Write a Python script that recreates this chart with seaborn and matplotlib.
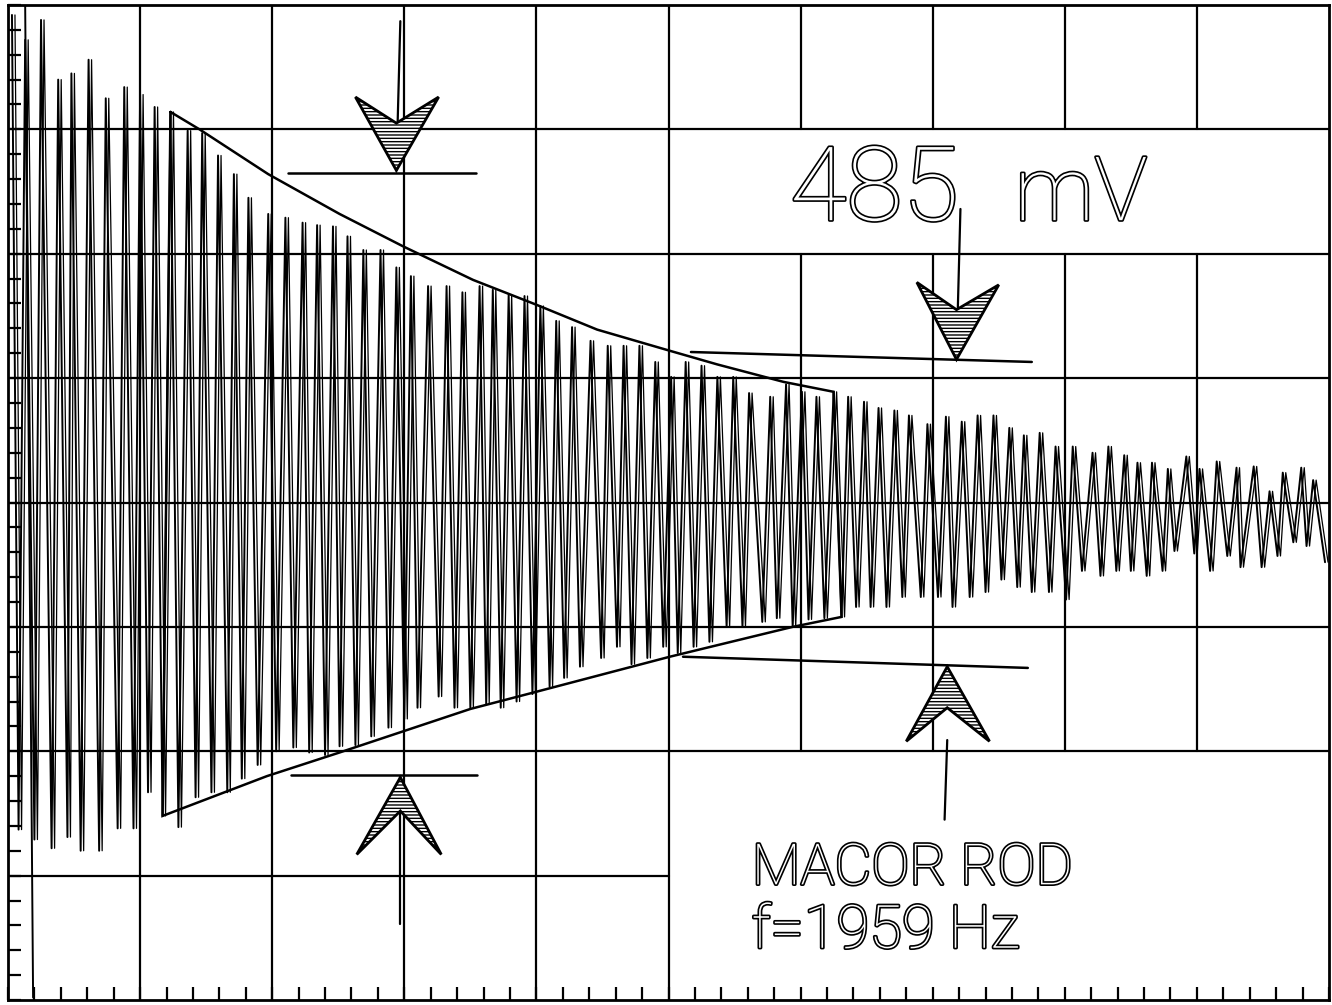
import numpy as np
import pandas as pd
import matplotlib
matplotlib.use("Agg")
import matplotlib.pyplot as plt
import seaborn as sns
from matplotlib import patheffects as pe
from matplotlib.patches import Polygon
from matplotlib.transforms import offset_copy

# ---------------- data (grid divisions) ----------------
peak_t = [0.03, 0.13, 0.25, 0.38, 0.48, 0.61, 0.74, 0.88, 1.00, 1.11,
          1.23, 1.36, 1.47, 1.59, 1.71, 1.82, 1.97, 2.10, 2.23, 2.34,
          2.46, 2.57, 2.69, 2.82, 2.94, 3.05, 3.18, 3.32, 3.44, 3.57,
          3.67, 3.79, 3.91, 4.03, 4.15, 4.27, 4.41, 4.54, 4.66, 4.78,
          4.90, 5.02, 5.13, 5.25, 5.37, 5.49, 5.61, 5.77, 5.89, 6.01,
          6.12, 6.25, 6.36, 6.48, 6.59, 6.71, 6.82, 6.96, 7.10, 7.22,
          7.34, 7.46, 7.58, 7.69, 7.81, 7.93, 8.06, 8.21, 8.33, 8.45,
          8.55, 8.66, 8.78, 8.92, 9.02, 9.15, 9.30, 9.43, 9.55, 9.65,
          9.79, 9.88]
peak_v = [3.92, 3.72, 3.88, 3.40, 3.45, 3.56, 3.25, 3.34, 3.28, 3.18,
          3.14, 2.99, 2.97, 2.79, 2.64, 2.45, 2.32, 2.29, 2.25, 2.23,
          2.22, 2.14, 2.03, 2.03, 1.89, 1.82, 1.74, 1.74, 1.69, 1.74,
          1.71, 1.67, 1.66, 1.58, 1.46, 1.41, 1.30, 1.26, 1.26, 1.26,
          1.13, 1.01, 1.13, 1.10, 1.01, 1.01, 0.88, 0.85, 0.95, 0.89,
          0.85, 0.89, 0.85, 0.81, 0.76, 0.74, 0.70, 0.63, 0.69, 0.65,
          0.70, 0.70, 0.60, 0.54, 0.56, 0.45, 0.45, 0.40, 0.45, 0.38,
          0.32, 0.32, 0.27, 0.37, 0.27, 0.33, 0.28, 0.29, 0.09, 0.24,
          0.28, 0.18]
trough_t = [0.08, 0.20, 0.33, 0.45, 0.55, 0.69, 0.83, 0.95, 1.06, 1.17,
            1.29, 1.42, 1.54, 1.66, 1.77, 1.89, 2.03, 2.16, 2.28, 2.40,
            2.51, 2.63, 2.75, 2.88, 3.00, 3.10, 3.26, 3.38, 3.50, 3.62,
            3.73, 3.85, 3.97, 4.10, 4.21, 4.33, 4.49, 4.61, 4.72, 4.84,
            4.96, 5.07, 5.19, 5.31, 5.44, 5.56, 5.71, 5.82, 5.94, 6.06,
            6.18, 6.31, 6.42, 6.53, 6.65, 6.77, 6.91, 7.04, 7.15, 7.28,
            7.40, 7.52, 7.64, 7.75, 7.88, 8.01, 8.13, 8.27, 8.39, 8.50,
            8.62, 8.74, 8.83, 8.98, 9.10, 9.23, 9.33, 9.49, 9.61, 9.73,
            9.83, 9.97]
trough_v = [-2.63, -2.71, -2.78, -2.69, -2.80, -2.80, -2.62, -2.62, -2.33, -2.52,
            -2.61, -2.37, -2.33, -2.33, -2.22, -2.11, -2.00, -1.97, -2.01, -2.03,
            -1.96, -1.95, -1.88, -1.81, -1.74, -1.65, -1.56, -1.65, -1.65, -1.62,
            -1.65, -1.60, -1.54, -1.48, -1.41, -1.32, -1.25, -1.16, -1.30, -1.25,
            -1.16, -1.21, -1.16, -1.12, -1.00, -1.00, -0.96, -0.93, -1.00, -0.94,
            -0.93, -0.92, -0.84, -0.84, -0.84, -0.76, -0.76, -0.76, -0.84, -0.76,
            -0.72, -0.62, -0.68, -0.72, -0.72, -0.78, -0.55, -0.59, -0.55, -0.55,
            -0.59, -0.55, -0.39, -0.41, -0.55, -0.43, -0.52, -0.52, -0.43, -0.32,
            -0.35, -0.48]

# decay envelope drawn over the trace
env_top_t = [1.23, 1.45, 1.97, 2.51, 2.99, 3.52, 4.00, 4.46, 5.01, 5.37, 5.87, 6.25]
env_top_v = [3.14, 3.00, 2.64, 2.32, 2.06, 1.79, 1.59, 1.39, 1.22, 1.11, 0.97, 0.89]
env_bot_t = [1.17, 1.96, 2.51, 3.50, 3.97, 5.01, 5.94, 6.31]
env_bot_v = [-2.52, -2.20, -2.01, -1.66, -1.53, -1.24, -1.00, -0.92]

# reference level lines (start, end)
ref_lines = {
    "top_left": ([2.12, 3.54], [2.65, 2.65]),
    "bot_left": ([2.14, 3.55], [-2.19, -2.19]),
    "top_right": ([5.17, 7.75], [1.21, 1.13]),
    "bot_right": ([5.11, 7.72], [-1.24, -1.33]),
}
# arrow heads: wing, tip, wing, notch
arrow_heads = [
    ([2.63, 2.94, 3.26, 2.94], [3.26, 2.67, 3.26, 3.05]),
    ([2.64, 2.97, 3.28, 2.97], [-2.83, -2.21, -2.83, -2.48]),
    ([6.88, 7.18, 7.50, 7.18], [1.77, 1.15, 1.75, 1.55]),
    ([6.80, 7.11, 7.43, 7.11], [-1.92, -1.32, -1.92, -1.65]),
]
leaders = [
    ([2.97, 2.94], [3.87, 2.67]),
    ([2.97, 2.97], [-2.21, -3.39]),
    ([7.21, 7.18], [2.36, 1.15]),
    ([7.11, 7.09], [-1.91, -2.55]),
]

# graticule divisions
grid_x = [1, 2, 3, 4, 5, 6, 7, 8, 9]
grid_y = [-3, -2, -1, 0, 1, 2, 3]

# ---------------- styling ----------------
sns.set_theme(style="white")
plt.rcParams["font.family"] = ["Roboto", "DejaVu Sans"]
plt.rcParams["hatch.linewidth"] = 1.0
plt.rcParams["hatch.color"] = "black"

fig = plt.figure(figsize=(13.32, 10.05), dpi=100)
fig.patch.set_facecolor("white")
ax = fig.add_axes([8 / 1332, 5 / 1005, 1321 / 1332, 995 / 1005])
ax.set_facecolor("white")

ax.set_xlim(0, 10)
ax.set_ylim(-4, 4)
ax.set_xticks(range(0, 11))
ax.set_yticks(range(-4, 5))
ax.set_xticks(np.arange(0, 10.01, 0.2), minor=True)
ax.set_yticks(np.arange(-4, 4.01, 0.2), minor=True)
ax.grid(False)
ax.tick_params(which="both", direction="in", length=9.5, width=1.6, color="black",
               bottom=True, left=True, top=False, right=False,
               labelbottom=False, labelleft=False)
for s in ax.spines.values():
    s.set_color("black")
    s.set_linewidth(2.0)

# graticule: cleared behind the two text blocks
gkw = dict(color="black", lw=1.6, zorder=1)
for gx in grid_x:
    if gx >= 6:
        ax.plot([gx, gx], [-2, 2], **gkw)
        ax.plot([gx, gx], [3, 4], **gkw)
    else:
        ax.plot([gx, gx], [-4, 4], **gkw)
for gy in grid_y:
    if gy == -3:
        ax.plot([0, 5], [gy, gy], **gkw)
    else:
        ax.plot([0, 10], [gy, gy], **gkw)

# extra hand-drawn border line on the left
ax.plot([0.13, 0.19], [4.0, -3.98], color="black", lw=1.4)

# ---------------- trace ----------------
t = np.empty(2 * len(peak_t))
v = np.empty(2 * len(peak_t))
t[0::2], t[1::2] = peak_t, trough_t
v[0::2], v[1::2] = peak_v, trough_v
df = pd.DataFrame({"t": t, "v": v})
sns.lineplot(data=df, x="t", y="v", sort=False, estimator=None,
             color="black", lw=1.4, ax=ax, legend=False)
ax.plot(df["t"], df["v"], color="black", lw=0.9,
        transform=offset_copy(ax.transData, fig=fig, x=3, y=0, units="dots"))
ax.set_xlabel("")
ax.set_ylabel("")

# ---------------- envelope ----------------
env_t = env_top_t + env_bot_t[::-1] + [env_top_t[0]]
env_v = env_top_v + env_bot_v[::-1] + [env_top_v[0]]
ax.plot(env_t, env_v, color="black", lw=1.8, solid_joinstyle="miter")

# ---------------- reference lines & arrows ----------------
for xs, ys in ref_lines.values():
    ax.plot(xs, ys, color="black", lw=1.8)
for xs, ys in leaders:
    ax.plot(xs, ys, color="black", lw=1.6)
for xs, ys in arrow_heads:
    ax.add_patch(Polygon(np.column_stack([xs, ys]), closed=True,
                         facecolor="white", edgecolor="black", lw=2.0,
                         hatch="-----", zorder=5))

# ---------------- text ----------------
hollow = [pe.withStroke(linewidth=2.4, foreground="black")]
ax.text(5.92, 2.27, "485", fontsize=74, fontweight="light", color="white",
        ha="left", va="baseline", path_effects=hollow, zorder=6)
ax.text(7.62, 2.27, "mV", fontsize=64, fontweight="light", color="white",
        ha="left", va="baseline", path_effects=hollow, zorder=6)
ax.text(5.63, -3.07, "MACOR ROD", fontsize=41, fontweight="light", color="white",
        ha="left", va="baseline", path_effects=hollow, zorder=6)
ax.text(5.63, -3.58, "f=1959 Hz", fontsize=43, fontweight="light", color="white",
        ha="left", va="baseline", path_effects=hollow, zorder=6)

fig.savefig("out.png", dpi=100, facecolor="white")
